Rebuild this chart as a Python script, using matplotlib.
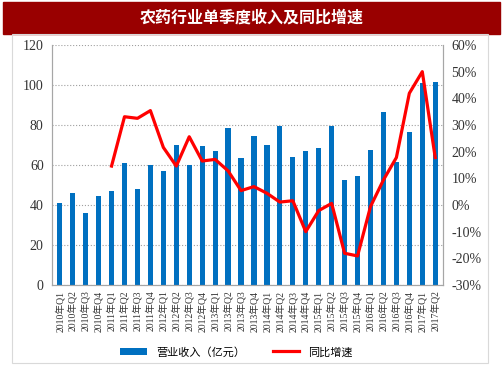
import matplotlib
matplotlib.use("Agg")
import matplotlib.pyplot as plt
from matplotlib.patches import Rectangle
import matplotlib.ticker as ticker

# quarterly revenue (100 million yuan) and YoY growth (%)
quarters = [f"{y}年Q{q}" for y in range(2010, 2018) for q in range(1, 5)][:30]
revenue = [41.2, 45.8, 36.2, 44.5, 47.0, 60.8, 47.8, 59.8,
           57.2, 69.8, 60.0, 69.5, 67.0, 78.7, 63.5, 74.7,
           69.8, 79.5, 64.0, 67.0, 68.5, 79.7, 52.5, 54.3,
           67.3, 86.3, 61.5, 76.5, 100.8, 101.5]
growth = [None, None, None, None, 14.6, 33.1, 32.5, 35.4,
          21.6, 14.6, 25.6, 16.5, 17.1, 12.8, 5.4, 6.9,
          4.4, 1.1, 1.6, -10.0, -2.1, 0.6, -18.1, -19.1,
          -0.6, 9.4, 17.8, 41.9, 50.0, 17.8]

title = "农药行业单季度收入及同比增速"
bar_label = "营业收入（亿元）"
line_label = "同比增速"

serif = ["Liberation Serif", "Noto Sans CJK SC"]
cjk = ["Noto Sans CJK SC", "DejaVu Sans"]
plt.rcParams['font.family'] = serif

fig = plt.figure(figsize=(5.03, 3.78), dpi=100)

# banner and frame
fig.patches.append(Rectangle((3 / 503, 1 - 34 / 378), 497 / 503, 32 / 378,
                             transform=fig.transFigure, color="#990000", zorder=0))
fig.patches.append(Rectangle((12 / 503, 1 - 363 / 378), 476 / 503, 329 / 378,
                             transform=fig.transFigure, fill=False,
                             edgecolor="#d9d9d9", linewidth=0.8, zorder=0))
fig.text(0.5, 1 - 18 / 378, title, color="white", fontsize=11.5, fontweight="bold",
         family=cjk, ha="center", va="center")

ax = fig.add_axes([52 / 503, 1 - 285 / 378, 391 / 503, 240 / 378])
x = list(range(len(quarters)))
bars = ax.bar(x, revenue, width=0.4, color="#0070C0", label=bar_label, zorder=2)
ax.set_ylim(0, 120)
ax.set_yticks(range(0, 121, 20))
ax.set_xlim(-0.6, len(quarters) - 0.4)
ax.set_xticks(x)
ax.set_xticklabels(quarters, rotation=90, fontsize=7, family=serif)
ax.tick_params(axis="y", labelsize=10, length=0, pad=6, colors="#333333")
ax.tick_params(axis="x", length=0, pad=4, colors="#333333")
ax.grid(axis="y", linestyle=":", color="#a0a0a0", linewidth=0.8, zorder=0)
ax.spines["top"].set_visible(False)
for s in ["left", "bottom", "right"]:
    ax.spines[s].set_color("#a6a6a6")

ax2 = ax.twinx()
gx = [i for i, g in zip(x, growth) if g is not None]
gy = [g for g in growth if g is not None]
line, = ax2.plot(gx, gy, color="#ff0000", linewidth=2.3, label=line_label, zorder=3)
ax2.set_ylim(-30, 60)
ax2.set_yticks(range(-30, 61, 10))
ax2.yaxis.set_major_formatter(ticker.FuncFormatter(lambda v, p: f"{v:.0f}%"))
ax2.tick_params(axis="y", labelsize=10, length=0, pad=6, colors="#333333")
ax2.spines["top"].set_visible(False)
for s in ["left", "bottom", "right"]:
    ax2.spines[s].set_color("#a6a6a6")

fig.legend([bars, line], [bar_label, line_label], loc="center",
           bbox_to_anchor=(0.47, 1 - 352 / 378), ncol=2, frameon=False,
           prop={"family": cjk, "size": 8}, handlelength=2.4, columnspacing=2.5)

fig.savefig("out.png", dpi=100)
